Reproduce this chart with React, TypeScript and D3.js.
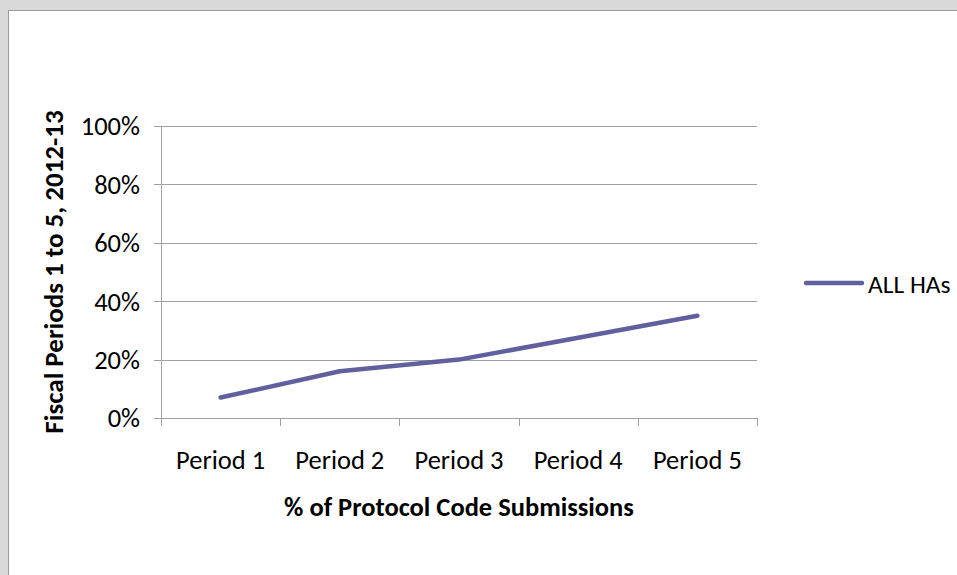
import React from "react";
import * as d3 from "d3";

const periods = ["Period 1", "Period 2", "Period 3", "Period 4", "Period 5"];
const allHAs = [0.07, 0.16, 0.2, 0.275, 0.35];
const yTicks = [0, 0.2, 0.4, 0.6, 0.8, 1];
const seriesName = "ALL HAs";
const xTitle = "% of Protocol Code Submissions";
const yTitle = "Fiscal Periods 1 to 5, 2012-13";

const FONT = "Carlito, Calibri, Lato, sans-serif";

function drawChart(svgRef: React.RefObject<SVGSVGElement | null>) {
  const w = 957;
  const h = 575;
  const svg = d3.select(svgRef.current);
  svg.selectAll("*").remove();
  svg.attr("width", w).attr("height", h);

  // outer frame
  svg.append("rect").attr("width", w).attr("height", h).attr("fill", "#d9d9d9");
  svg
    .append("rect")
    .attr("x", 8.5)
    .attr("y", 10.5)
    .attr("width", w + 10)
    .attr("height", h + 10)
    .attr("fill", "#fff")
    .attr("stroke", "#9a9a9a")
    .attr("stroke-width", 1);

  const x = d3.scaleBand().domain(periods).range([161, 757]).padding(0);
  const y = d3.scaleLinear().domain([0, 1]).range([418, 126]);

  // gridlines
  svg
    .append("g")
    .selectAll("line")
    .data(yTicks.filter((d) => d > 0))
    .join("line")
    .attr("x1", 161)
    .attr("x2", 757)
    .attr("y1", (d) => Math.round(y(d)) + 0.5)
    .attr("y2", (d) => Math.round(y(d)) + 0.5)
    .attr("stroke", "#a0a0a0");

  // y axis
  const yAxis = svg.append("g");
  yAxis
    .append("line")
    .attr("x1", 161.5)
    .attr("x2", 161.5)
    .attr("y1", y(1))
    .attr("y2", y(0))
    .attr("stroke", "#a0a0a0");
  yAxis
    .selectAll("line.tick")
    .data(yTicks)
    .join("line")
    .attr("class", "tick")
    .attr("x1", 154)
    .attr("x2", 161)
    .attr("y1", (d) => Math.round(y(d)) + 0.5)
    .attr("y2", (d) => Math.round(y(d)) + 0.5)
    .attr("stroke", "#a0a0a0");
  yAxis
    .selectAll("text")
    .data(yTicks)
    .join("text")
    .attr("x", 140)
    .attr("y", (d) => y(d) + 3)
    .attr("text-anchor", "end")
    .attr("dominant-baseline", "middle")
    .attr("font-family", FONT)
    .attr("font-size", 26.5)
    .attr("fill", "#000")
    .text((d) => d3.format(".0%")(d));

  // x axis
  const xAxis = svg.append("g");
  xAxis
    .append("line")
    .attr("x1", 161)
    .attr("x2", 757)
    .attr("y1", 418.5)
    .attr("y2", 418.5)
    .attr("stroke", "#a0a0a0");
  const bounds = periods.map((p) => x(p) as number).concat([x.range()[1]]);
  xAxis
    .selectAll("line.tick")
    .data(bounds)
    .join("line")
    .attr("class", "tick")
    .attr("x1", (d) => Math.round(d) + 0.5)
    .attr("x2", (d) => Math.round(d) + 0.5)
    .attr("y1", 418)
    .attr("y2", 426)
    .attr("stroke", "#a0a0a0");
  xAxis
    .selectAll("text")
    .data(periods)
    .join("text")
    .attr("x", (d) => (x(d) as number) + x.bandwidth() / 2)
    .attr("y", 469)
    .attr("text-anchor", "middle")
    .attr("font-family", FONT)
    .attr("font-size", 26.5)
    .attr("fill", "#000")
    .text((d) => d);

  // line
  const line = d3
    .line<number>()
    .x((_, i) => (x(periods[i]) as number) + x.bandwidth() / 2)
    .y((d) => y(d));
  svg
    .append("path")
    .datum(allHAs)
    .attr("fill", "none")
    .attr("stroke", "#60609f")
    .attr("stroke-width", 4.5)
    .attr("stroke-linejoin", "round")
    .attr("stroke-linecap", "round")
    .attr("d", line);

  // axis titles
  svg
    .append("text")
    .attr("x", 459)
    .attr("y", 516)
    .attr("text-anchor", "middle")
    .attr("font-family", FONT)
    .attr("font-weight", "bold")
    .attr("font-size", 26.5)
    .attr("fill", "#000")
    .text(xTitle);
  svg
    .append("text")
    .attr("transform", "translate(63,272) rotate(-90)")
    .attr("text-anchor", "middle")
    .attr("font-family", FONT)
    .attr("font-weight", "bold")
    .attr("font-size", 27)
    .attr("fill", "#000")
    .text(yTitle);

  // legend
  const legend = svg.append("g");
  legend
    .append("line")
    .attr("x1", 806)
    .attr("x2", 862)
    .attr("y1", 283)
    .attr("y2", 283)
    .attr("stroke", "#60609f")
    .attr("stroke-width", 4.5)
    .attr("stroke-linecap", "round");
  legend
    .append("text")
    .attr("x", 868)
    .attr("y", 293)
    .attr("font-family", FONT)
    .attr("font-size", 25.5)
    .attr("fill", "#000")
    .text(seriesName);
}

const App = () => {
  const svg = React.useRef<SVGSVGElement>(null);

  React.useEffect(() => {
    drawChart(svg);
  }, [svg]);

  return (
    <div style={{ position: "fixed", left: 0, top: 0 }}>
      <svg ref={svg} style={{ display: "block" }} />
    </div>
  );
};

export default App;
